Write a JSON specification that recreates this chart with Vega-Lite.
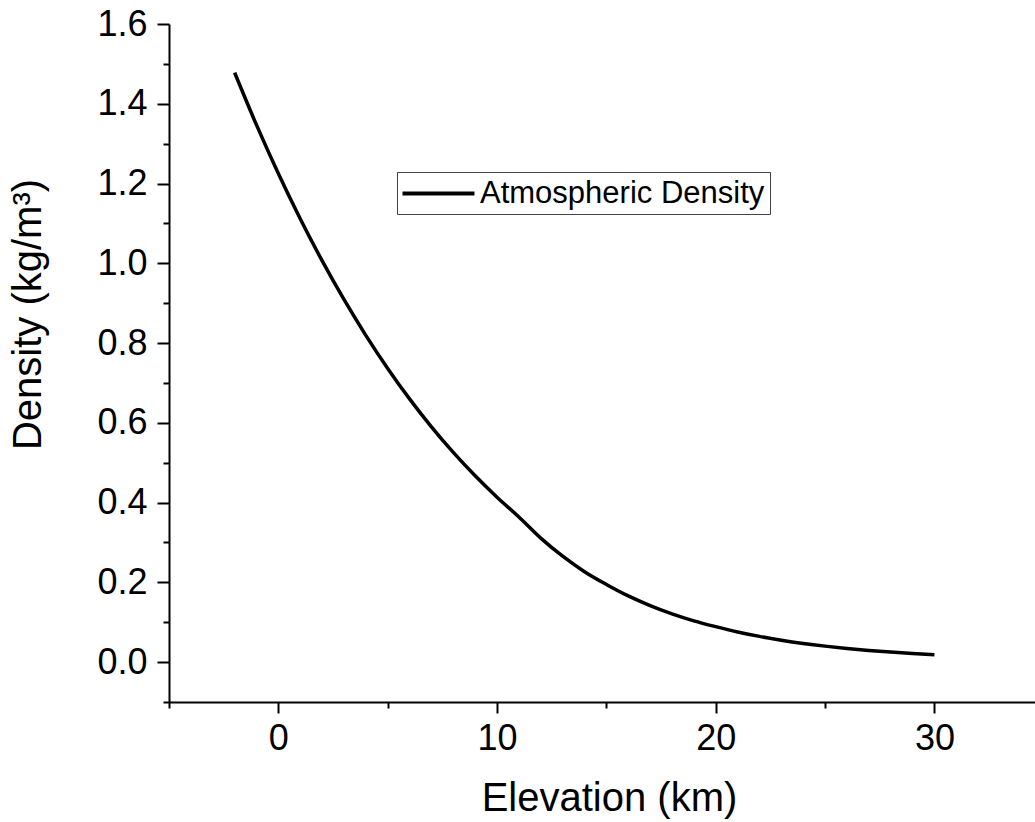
{
  "$schema": "https://vega.github.io/schema/vega-lite/v6.json",
  "width": 866,
  "height": 678,
  "autosize": {"type": "none"},
  "padding": {"left": 169, "top": 24, "right": 0, "bottom": 120},
  "background": "white",
  "config": {
    "view": {"stroke": null},
    "font": "Liberation Sans",
    "axis": {
      "grid": false,
      "domainColor": "#000",
      "domainWidth": 2,
      "tickColor": "#000",
      "tickWidth": 2,
      "labelColor": "#000",
      "titleColor": "#000",
      "labelFont": "Liberation Sans",
      "titleFont": "Liberation Sans",
      "labelFontSize": 36,
      "titleFontSize": 40,
      "titleFontWeight": "normal"
    }
  },
  "data": {
    "values": [
      {"elevation": -2, "density": 1.4782, "series": "Atmospheric Density"},
      {"elevation": -1, "density": 1.347, "series": "Atmospheric Density"},
      {"elevation": 0, "density": 1.225, "series": "Atmospheric Density"},
      {"elevation": 1, "density": 1.1117, "series": "Atmospheric Density"},
      {"elevation": 2, "density": 1.0066, "series": "Atmospheric Density"},
      {"elevation": 3, "density": 0.9093, "series": "Atmospheric Density"},
      {"elevation": 4, "density": 0.8194, "series": "Atmospheric Density"},
      {"elevation": 5, "density": 0.7364, "series": "Atmospheric Density"},
      {"elevation": 6, "density": 0.6601, "series": "Atmospheric Density"},
      {"elevation": 7, "density": 0.59, "series": "Atmospheric Density"},
      {"elevation": 8, "density": 0.5258, "series": "Atmospheric Density"},
      {"elevation": 9, "density": 0.4671, "series": "Atmospheric Density"},
      {"elevation": 10, "density": 0.4135, "series": "Atmospheric Density"},
      {"elevation": 11, "density": 0.3639, "series": "Atmospheric Density"},
      {"elevation": 12, "density": 0.3108, "series": "Atmospheric Density"},
      {"elevation": 13, "density": 0.2655, "series": "Atmospheric Density"},
      {"elevation": 14, "density": 0.2268, "series": "Atmospheric Density"},
      {"elevation": 15, "density": 0.1948, "series": "Atmospheric Density"},
      {"elevation": 16, "density": 0.166, "series": "Atmospheric Density"},
      {"elevation": 17, "density": 0.1418, "series": "Atmospheric Density"},
      {"elevation": 18, "density": 0.1211, "series": "Atmospheric Density"},
      {"elevation": 19, "density": 0.1035, "series": "Atmospheric Density"},
      {"elevation": 20, "density": 0.0889, "series": "Atmospheric Density"},
      {"elevation": 21, "density": 0.0757, "series": "Atmospheric Density"},
      {"elevation": 22, "density": 0.0645, "series": "Atmospheric Density"},
      {"elevation": 23, "density": 0.055, "series": "Atmospheric Density"},
      {"elevation": 24, "density": 0.0469, "series": "Atmospheric Density"},
      {"elevation": 25, "density": 0.0401, "series": "Atmospheric Density"},
      {"elevation": 26, "density": 0.0343, "series": "Atmospheric Density"},
      {"elevation": 27, "density": 0.0293, "series": "Atmospheric Density"},
      {"elevation": 28, "density": 0.0251, "series": "Atmospheric Density"},
      {"elevation": 29, "density": 0.0215, "series": "Atmospheric Density"},
      {"elevation": 30, "density": 0.0184, "series": "Atmospheric Density"}
    ]
  },
  "mark": {"type": "line", "strokeWidth": 3.5, "interpolate": "monotone"},
  "encoding": {
    "x": {
      "field": "elevation",
      "type": "quantitative",
      "scale": {"domain": [-5, 34.6], "nice": false, "zero": false},
      "axis": {
        "title": "Elevation (km)",
        "values": [-5, 0, 5, 10, 15, 20, 25, 30],
        "labelExpr": "datum.value % 10 === 0 ? datum.label : ''",
        "tickSize": {"condition": {"test": "datum.value % 10 === 0", "value": 11}, "value": 6},
        "labelPadding": 8,
        "titlePadding": 22,
        "titleX": 440
      }
    },
    "y": {
      "field": "density",
      "type": "quantitative",
      "scale": {"domain": [-0.1, 1.6], "nice": false, "zero": false},
      "axis": {
        "title": "Density (kg/m³)",
        "values": [-0.1, 0, 0.1, 0.2, 0.3, 0.4, 0.5, 0.6, 0.7, 0.8, 0.9, 1.0, 1.1, 1.2, 1.3, 1.4, 1.5, 1.6],
        "labelExpr": "abs(round(datum.value * 10)) % 2 === 0 ? format(datum.value, '.1f') : ''",
        "tickSize": {"condition": {"test": "abs(round(datum.value * 10)) % 2 === 0", "value": 12}, "value": 6},
        "labelPadding": 10,
        "titlePadding": 48,
        "titleY": 290
      }
    },
    "color": {
      "field": "series",
      "type": "nominal",
      "scale": {"range": ["#000000"]},
      "legend": {
        "title": null,
        "orient": "none",
        "legendX": 228,
        "legendY": 148,
        "symbolType": "M-2.5,0H2.5",
        "symbolSize": 829,
        "symbolOffset": 20,
        "symbolStrokeWidth": 4,
        "symbolStrokeColor": "#000",
        "labelFont": "Liberation Sans",
        "labelFontSize": 31,
        "labelColor": "#000",
        "labelLimit": 0,
        "labelOffset": 25,
        "strokeColor": "#444",
        "padding": 5,
        "fillColor": "white"
      }
    }
  }
}
